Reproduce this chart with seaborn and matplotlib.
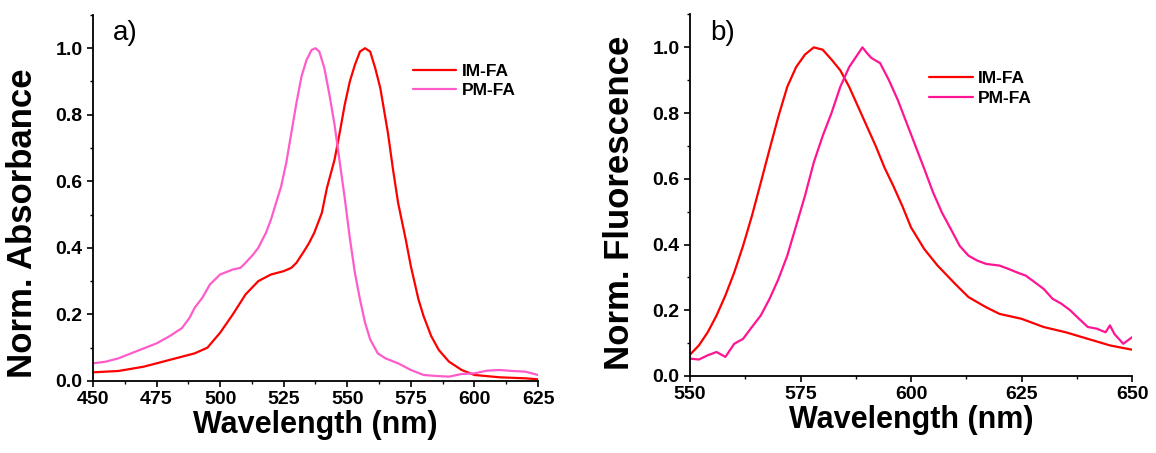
import numpy as np
import pandas as pd
import matplotlib.pyplot as plt
from matplotlib.ticker import MultipleLocator, AutoMinorLocator
import seaborn as sns

# Absorbance (panel a)
abs_im_wl = [450, 460, 470, 475, 480, 485, 490, 495, 500, 505, 510, 515, 520, 525, 528,
             530, 533, 535, 537, 540, 542, 545, 547, 549, 551, 553, 555, 557, 559, 561,
             563, 566, 568, 570, 573, 575, 578, 580, 583, 586, 590, 595, 600, 610, 620, 625]
abs_im = [0.026, 0.030, 0.043, 0.053, 0.063, 0.073, 0.083, 0.100, 0.145, 0.200, 0.260,
          0.300, 0.320, 0.330, 0.340, 0.355, 0.390, 0.415, 0.445, 0.505, 0.580, 0.665,
          0.745, 0.830, 0.900, 0.950, 0.990, 1.000, 0.990, 0.940, 0.880, 0.745, 0.635,
          0.535, 0.425, 0.345, 0.245, 0.195, 0.135, 0.093, 0.058, 0.033, 0.018, 0.011,
          0.008, 0.005]

abs_pm_wl = [450, 455, 460, 465, 470, 475, 480, 485, 488, 490, 493, 496, 500, 505, 508,
             510, 513, 515, 518, 520, 522, 524, 526, 528, 530, 532, 534, 536, 537.5, 539,
             541, 543, 545, 547, 549, 551, 553, 555, 557, 559, 562, 565, 570, 575, 580,
             585, 590, 595, 600, 605, 610, 615, 620, 625]
abs_pm = [0.053, 0.058, 0.068, 0.083, 0.098, 0.113, 0.134, 0.159, 0.190, 0.220, 0.250,
          0.290, 0.320, 0.335, 0.340, 0.355, 0.380, 0.400, 0.445, 0.485, 0.535, 0.585,
          0.655, 0.745, 0.835, 0.915, 0.965, 0.995, 1.000, 0.990, 0.940, 0.860, 0.770,
          0.660, 0.550, 0.430, 0.325, 0.245, 0.175, 0.125, 0.083, 0.068, 0.053, 0.033,
          0.018, 0.015, 0.013, 0.021, 0.023, 0.031, 0.033, 0.030, 0.028, 0.018]

# Fluorescence (panel b)
fl_im_wl = [550, 552, 554, 556, 558, 560, 562, 564, 566, 568, 570, 572, 574, 576, 578,
            580, 582, 584, 586, 588, 590, 592, 594, 596, 598, 600, 603, 606, 610, 613,
            617, 620, 625, 630, 635, 640, 645, 650]
fl_im = [0.065, 0.093, 0.133, 0.184, 0.245, 0.315, 0.396, 0.487, 0.588, 0.690, 0.790,
         0.880, 0.940, 0.978, 1.000, 0.993, 0.963, 0.930, 0.880, 0.820, 0.760, 0.700,
         0.634, 0.578, 0.518, 0.452, 0.386, 0.336, 0.280, 0.240, 0.209, 0.189, 0.174,
         0.149, 0.133, 0.113, 0.093, 0.080]

fl_pm_wl = [550, 552, 554, 556, 558, 560, 562, 564, 566, 568, 570, 572, 574, 576, 578,
            580, 582, 584, 586, 588, 589, 590, 591, 593, 595, 597, 599, 601, 603, 605,
            607, 609, 611, 613, 615, 617, 620, 622, 624, 626, 628, 630, 632, 634, 636,
            638, 640, 642, 644, 645, 646, 648, 650]
fl_pm = [0.053, 0.050, 0.063, 0.073, 0.058, 0.098, 0.113, 0.149, 0.184, 0.235, 0.295,
         0.366, 0.457, 0.548, 0.650, 0.730, 0.800, 0.880, 0.940, 0.980, 1.000, 0.983,
         0.968, 0.952, 0.900, 0.840, 0.770, 0.700, 0.630, 0.558, 0.497, 0.447, 0.396,
         0.366, 0.351, 0.341, 0.336, 0.326, 0.315, 0.305, 0.285, 0.265, 0.235, 0.220,
         0.200, 0.174, 0.149, 0.144, 0.133, 0.154, 0.128, 0.098, 0.118]

sns.set_theme(style='ticks')
plt.rcParams['font.family'] = ['Liberation Sans', 'DejaVu Sans']
plt.rcParams['font.weight'] = 'bold'
for key in ['text.color', 'axes.labelcolor', 'xtick.color', 'ytick.color',
            'axes.edgecolor']:
    plt.rcParams[key] = 'black'

fig = plt.figure(figsize=(11.56, 4.53), dpi=100)
ax1 = fig.add_axes([0.0804, 0.159, 0.385, 0.808])
ax2 = fig.add_axes([0.5969, 0.170, 0.3824, 0.798])

abs_df = pd.concat([
    pd.DataFrame({'wl': abs_im_wl, 'val': abs_im, 'sample': 'IM-FA'}),
    pd.DataFrame({'wl': abs_pm_wl, 'val': abs_pm, 'sample': 'PM-FA'}),
])
fl_df = pd.concat([
    pd.DataFrame({'wl': fl_im_wl, 'val': fl_im, 'sample': 'IM-FA'}),
    pd.DataFrame({'wl': fl_pm_wl, 'val': fl_pm, 'sample': 'PM-FA'}),
])

sns.lineplot(data=abs_df, x='wl', y='val', hue='sample', sort=False,
             palette={'IM-FA': '#ff0000', 'PM-FA': '#ff5ccb'}, lw=1.6, ax=ax1)
sns.lineplot(data=fl_df, x='wl', y='val', hue='sample', sort=False,
             palette={'IM-FA': '#ff0000', 'PM-FA': '#ff1493'}, lw=1.6, ax=ax2)

panels = [(ax1, (450, 625), 'Norm. Absorbance', 'a)', (0.719, 0.867), 0.43),
          (ax2, (550, 650), 'Norm. Fluorescence', 'b)', (0.541, 0.843), 0.478)]
for ax, xlim, ylabel, tag, leg_pos, ylab_y in panels:
    ax.set_xlim(*xlim)
    ax.set_ylim(0, 1.1)
    ax.xaxis.set_major_locator(MultipleLocator(25))
    ax.xaxis.set_minor_locator(AutoMinorLocator(2))
    ax.yaxis.set_major_locator(MultipleLocator(0.2))
    ax.yaxis.set_minor_locator(AutoMinorLocator(2))
    ax.tick_params(which='major', direction='out', length=4, width=1.2,
                   labelsize=14, pad=3.5)
    ax.tick_params(which='minor', direction='out', length=2.5, width=1.0)
    for lbl in ax.get_xticklabels() + ax.get_yticklabels():
        lbl.set_fontweight('bold')
    ax.spines['top'].set_visible(False)
    ax.spines['right'].set_visible(False)
    ax.spines['left'].set_linewidth(1.3)
    ax.spines['bottom'].set_linewidth(1.3)
    ax.set_xlabel('Wavelength (nm)', fontsize=22, fontweight='bold', labelpad=1)
    ax.set_ylabel(ylabel, fontsize=25, fontweight='bold')
    ax.yaxis.set_label_coords(-0.122, ylab_y)
    ax.text(0.045, 0.985, tag, transform=ax.transAxes, fontsize=20,
            fontweight='normal', va='top', ha='left')
    ax.legend(loc='upper left', bbox_to_anchor=leg_pos, frameon=False,
              prop={'weight': 'bold', 'size': 12.5}, handlelength=2.5,
              handletextpad=0.3, labelspacing=0.25, borderpad=0,
              borderaxespad=0, title=None)

fig.savefig('out.png', dpi=100)
